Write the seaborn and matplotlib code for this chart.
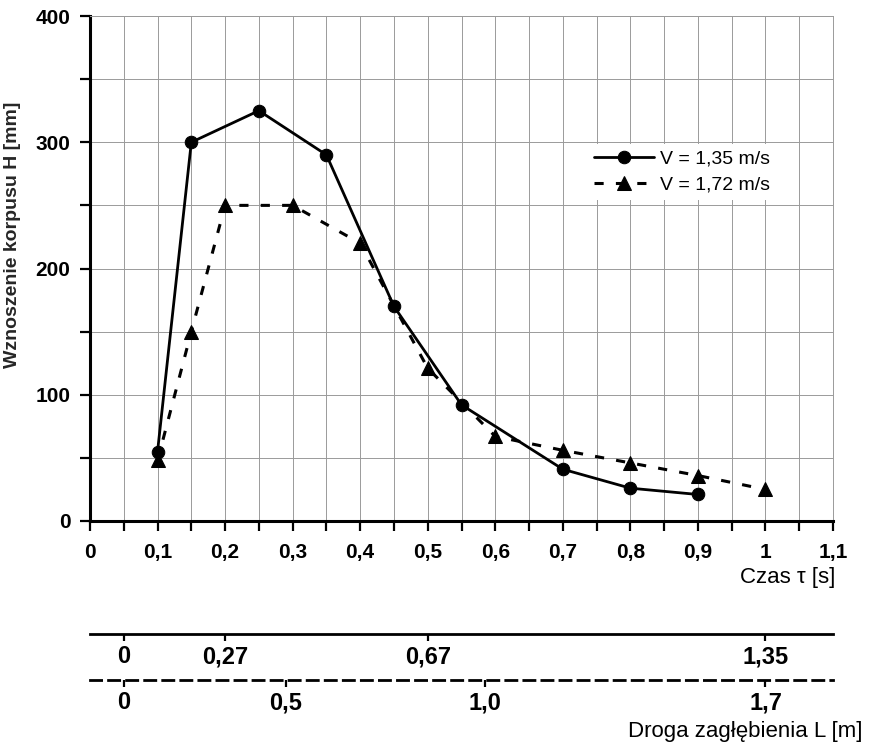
import numpy as np
import pandas as pd
import matplotlib
matplotlib.use('Agg')
import matplotlib.pyplot as plt
import seaborn as sns
from matplotlib.ticker import MultipleLocator, FuncFormatter

# Wznoszenie korpusu H [mm] w funkcji czasu tau [s]
tau_135 = [0.1, 0.15, 0.25, 0.35, 0.45, 0.55, 0.7, 0.8, 0.9]
h_135 = [55, 300, 325, 290, 170, 92, 41, 26, 21]
tau_172 = [0.1, 0.15, 0.2, 0.3, 0.4, 0.5, 0.6, 0.7, 0.8, 0.9, 1.0]
h_172 = [48, 150, 250, 250, 220, 121, 67, 56, 46, 36, 25]

# droga zaglebienia L - skala pod osia czasu
L_135_labels = ['0', '0,27', '0,67', '1,35']
L_135_tau = [0.05, 0.2, 0.5, 1.0]
L_172_labels = ['0', '0,5', '1,0', '1,7']
L_172_tau = [0.05, 0.29, 0.585, 1.0]

sns.set_theme(style='ticks')
plt.rcParams['font.family'] = ['Liberation Sans', 'DejaVu Sans']
plt.rcParams['text.color'] = 'black'
plt.rcParams['xtick.color'] = 'black'
plt.rcParams['ytick.color'] = 'black'

fig = plt.figure(figsize=(8.73, 7.49), dpi=100)
ax = fig.add_axes([90/873, 1-521/749, 743/873, 505/749])

sns.lineplot(x=tau_135, y=h_135, ax=ax, color='black', lw=2, marker='o', markersize=9,
             markeredgecolor='black', label='V = 1,35 m/s')
sns.lineplot(x=tau_172, y=h_172, ax=ax, color='black', lw=2.2, linestyle=(0, (3, 4)),
             marker='^', markersize=9.5, markeredgecolor='black', label='V = 1,72 m/s')

ax.set_xlim(0, 1.1)
ax.set_ylim(0, 400)
ax.xaxis.set_major_locator(MultipleLocator(0.1))
ax.xaxis.set_minor_locator(MultipleLocator(0.05))
ax.yaxis.set_major_locator(MultipleLocator(100))
ax.yaxis.set_minor_locator(MultipleLocator(50))
comma = FuncFormatter(lambda v, p: f'{v:g}'.replace('.', ','))
ax.xaxis.set_major_formatter(comma)
ax.grid(which='both', color='#9a9a9a', lw=0.7)
ax.tick_params(which='both', direction='out', length=7, width=1.6, labelsize=15)
ax.tick_params(axis='x', pad=9)
ax.tick_params(axis='y', pad=7)
for lbl in ax.get_xticklabels() + ax.get_yticklabels():
    lbl.set_fontweight('bold')
for s in ['left', 'bottom']:
    ax.spines[s].set_linewidth(2.2)
    ax.spines[s].set_color('black')
for s in ['top', 'right']:
    ax.spines[s].set_linewidth(0.7)
    ax.spines[s].set_color('#9a9a9a')

ax.set_xlabel('')
ax.set_ylabel('Wznoszenie korpusu H [mm]', fontsize=14, fontweight='bold')
ax.yaxis.set_label_coords(-0.093, 0.566)

leg = ax.legend(loc='upper left', bbox_to_anchor=(0.657, 0.766), fontsize=14,
                handlelength=3.1, handletextpad=0.3, labelspacing=0.45, borderpad=0.3,
                frameon=True, fancybox=False, framealpha=1, facecolor='white', edgecolor='none')

# dwie skale drogi L pod wykresem
for ypx, ticks, labels, ls, pad in [(634, L_135_tau, L_135_labels, '-', 3),
                                    (680, L_172_tau, L_172_labels, (0, (4, 2.5)), 3)]:
    axl = fig.add_axes([90/873, 1-ypx/749, 743/873, 0.0001])
    axl.set_xlim(0, 1.1)
    axl.set_yticks([])
    axl.set_facecolor('none')
    for s in ['top', 'left', 'right']:
        axl.spines[s].set_visible(False)
    axl.spines['bottom'].set_linewidth(2)
    axl.spines['bottom'].set_color('black')
    axl.spines['bottom'].set_linestyle(ls)
    axl.set_xticks(ticks)
    axl.set_xticklabels(labels, fontsize=17, fontweight='bold')
    axl.tick_params(axis='x', direction='out', length=5, width=1.6, pad=pad)

fig.text(835/873, 1-578/749, 'Czas τ [s]', ha='right', va='center', fontsize=16)
fig.text(862/873, 1-731/749, 'Droga zagłębienia L [m]', ha='right', va='center', fontsize=16)

fig.savefig('out.png', dpi=100)
